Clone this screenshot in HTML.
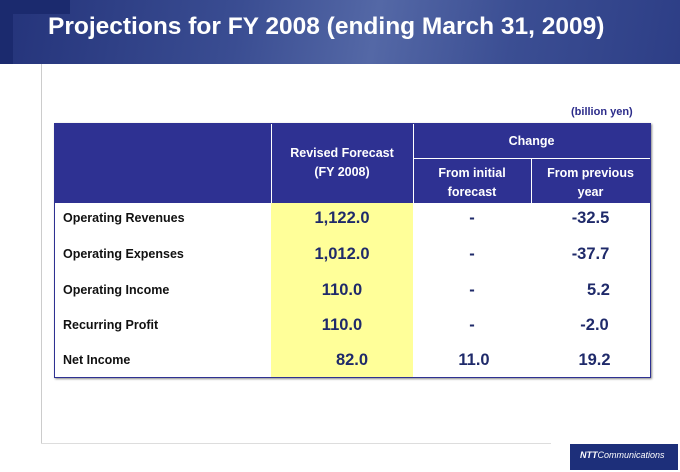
<!DOCTYPE html>
<html><head><meta charset="utf-8"><style>
body{margin:0;width:680px;height:472px;background:#fff;position:relative;overflow:hidden;font-family:"Liberation Sans",sans-serif}
.hdr{position:absolute;left:0;top:0;width:680px;height:64px;background:linear-gradient(100deg,#24337a 0%,#3a4d92 35%,#5468a6 55%,#3b4e93 75%,#2d3e86 100%)}
.blk1{position:absolute;left:0;top:0;width:70px;height:14px;background:#1b2a6e}
.blk2{position:absolute;left:0;top:0;width:13px;height:64px;background:#1b2a6e}
.title{position:absolute;left:48px;top:13px;color:#fff;font-size:24.5px;font-weight:bold;white-space:nowrap}
.vl{position:absolute;left:41px;top:64px;width:1px;height:380px;background:#ccc}
.hl{position:absolute;left:41px;top:443px;width:510px;height:1px;background:#ddd}
.unit{position:absolute;left:571px;top:106px;font-size:11px;font-weight:bold;color:#2b2b8a}
.tbl{position:absolute;left:54px;top:123px;width:595px;height:253px;border:1px solid #2e3192;box-shadow:1px 1px 2px #888}
.hd{position:absolute;left:0;top:0;width:595px;height:79px;background:#2e3192}
.y{position:absolute;left:216px;top:79px;width:142px;height:174px;background:#ffff99}
.c{position:absolute;color:#fff;font-size:12.5px;font-weight:bold;text-align:center;line-height:19px}
.w{position:absolute;background:#fff}
.lab{position:absolute;left:8px;font-size:12.5px;font-weight:bold;color:#111}
.n{position:absolute;font-size:16.5px;font-weight:bold;color:#1f2a6a;text-align:center}
.logo{position:absolute;left:570px;top:444px;width:108px;height:26px;background:#1d2f7a}
</style></head><body>
<div class="hdr"></div><div class="blk1"></div><div class="blk2"></div>
<div class="title">Projections for FY 2008 (ending March 31, 2009)</div>
<div class="vl"></div><div class="hl"></div>
<div class="unit">(billion yen)</div>
<div class="tbl">
<div class="hd"></div>
<div class="w" style="left:216px;top:0;width:1px;height:79px"></div>
<div class="w" style="left:358px;top:0;width:1px;height:79px"></div>
<div class="w" style="left:358px;top:34px;width:237px;height:1px"></div>
<div class="w" style="left:476px;top:34px;width:1px;height:45px"></div>
<div class="c" style="left:216px;top:20px;width:142px">Revised Forecast<br>(FY 2008)</div>
<div class="c" style="left:358px;top:8px;width:237px">Change</div>
<div class="c" style="left:358px;top:40px;width:118px">From initial<br>forecast</div>
<div class="c" style="left:476px;top:40px;width:119px">From previous<br>year</div>
<div class="y"></div>
<div class="lab" style="top:87px">Operating Revenues</div>
<div class="lab" style="top:123px">Operating Expenses</div>
<div class="lab" style="top:159px">Operating Income</div>
<div class="lab" style="top:194px">Recurring Profit</div>
<div class="lab" style="top:229px">Net Income</div>
<div class="n" style="left:216px;width:142px;top:85px">1,122.0</div>
<div class="n" style="left:216px;width:142px;top:121px">1,012.0</div>
<div class="n" style="left:216px;width:142px;top:157px">110.0</div>
<div class="n" style="left:216px;width:142px;top:192px">110.0</div>
<div class="n" style="left:226px;width:142px;top:227px">82.0</div>
<div class="n" style="left:358px;width:118px;top:85px">-</div>
<div class="n" style="left:358px;width:118px;top:121px">-</div>
<div class="n" style="left:358px;width:118px;top:157px">-</div>
<div class="n" style="left:358px;width:118px;top:192px">-</div>
<div class="n" style="left:360px;width:118px;top:227px">11.0</div>
<div class="n" style="left:476px;width:119px;top:85px">-32.5</div>
<div class="n" style="left:476px;width:119px;top:121px">-37.7</div>
<div class="n" style="left:484px;width:119px;top:157px">5.2</div>
<div class="n" style="left:480px;width:119px;top:192px">-2.0</div>
<div class="n" style="left:480px;width:119px;top:227px">19.2</div>
</div>
<div class="logo"><div style="position:absolute;left:10px;top:6px;color:#fff;font-size:9px;font-weight:bold;font-style:italic">NTT<span style="font-weight:normal">Communications</span></div></div>
</body></html>
